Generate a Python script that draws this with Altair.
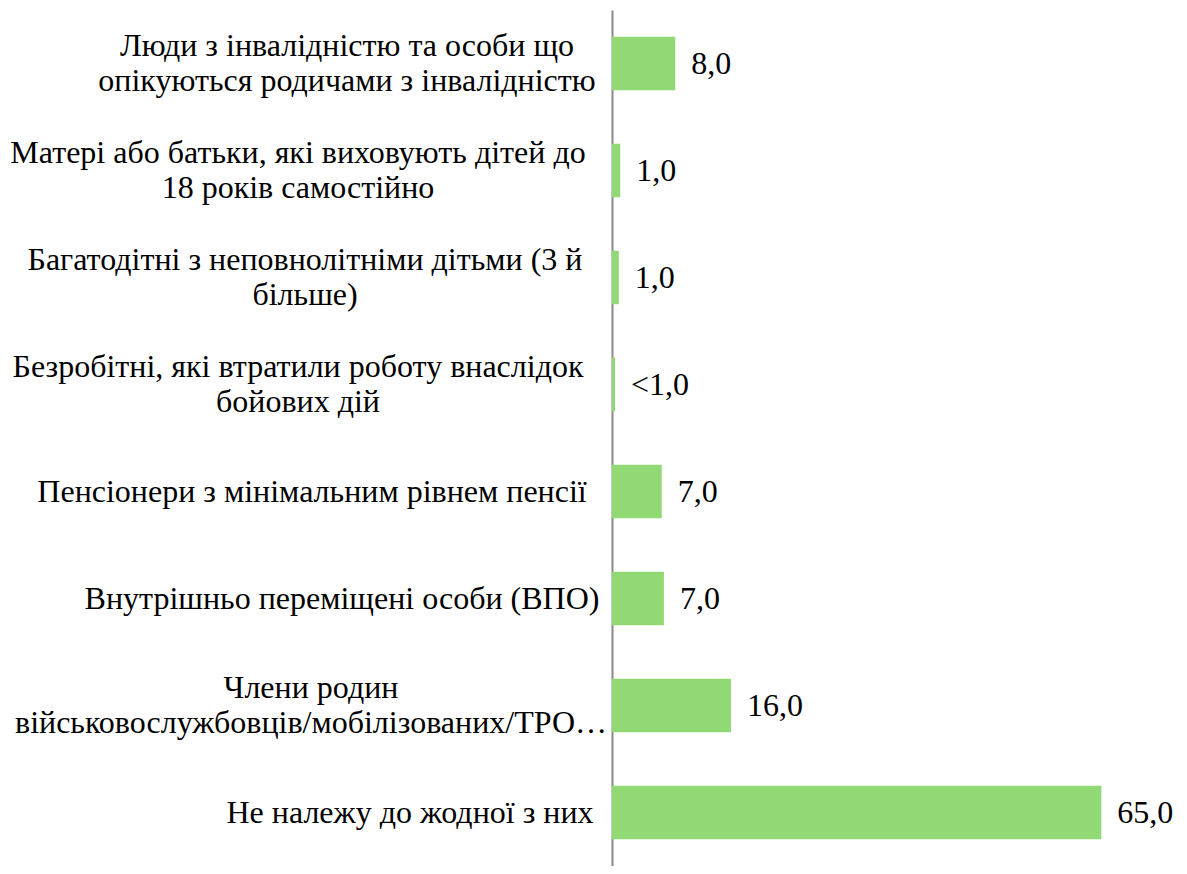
import altair as alt
import pandas as pd

categories = [
    "Люди з інвалідністю та особи що|опікуються родичами з інвалідністю",
    "Матері або батьки, які виховують дітей до|18 років самостійно",
    "Багатодітні з неповнолітніми дітьми (3 й|більше)",
    "Безробітні, які втратили роботу внаслідок|бойових дій",
    "Пенсіонери з мінімальним рівнем пенсії ",
    "Внутрішньо переміщені особи (ВПО)",
    "Члени родин|військовослужбовців/мобілізованих/ТРО…",
    "Не належу до жодної з них",
]
values = [8.4, 1.1, 0.9, 0.4, 6.6, 6.9, 15.8, 65.0]
labels = ["8,0", "1,0", "1,0", "<1,0", "7,0", "7,0", "16,0", "65,0"]

line1 = [c.split("|")[0] for c in categories]
line2 = [c.split("|")[1] if "|" in c else "" for c in categories]
nlines = [2 if "|" in c else 1 for c in categories]

df = pd.DataFrame({"cat": categories, "val": values, "lab": labels,
                   "l1": line1, "l2": line2, "n": nlines})

FONT = "Liberation Serif"
FS = 32
WIDTH = 527
XMAX = 70

y = alt.Y(
    "cat:N",
    sort=categories,
    scale=alt.Scale(paddingInner=0.5, paddingOuter=0.25),
    axis=alt.Axis(
        title=None,
        ticks=False,
        labels=False,
        domain=True,
        domainColor="#898989",
        domainWidth=2,
    ),
)
xs = alt.Scale(domain=[0, XMAX], nice=False)
x = alt.X("val:Q", scale=xs, axis=None)
ycat = alt.Y("cat:N", sort=categories)

base = alt.Chart(df)

bars = base.mark_bar(color="#90D975").encode(x=x, y=y)
values_text = base.mark_text(
    align="left", baseline="middle", dx=16, font=FONT, fontSize=FS, color="#000000"
).encode(x=x, y=ycat, text="lab:N")

# category labels: block right-aligned next to the axis, lines centred within the block
UP = "regexp('[А-ЯЄІЇҐA-Z]', 'g')"
def est(f):
    upper = f"(length({f}) - length(replace({f}, {UP}, '')))"
    return f"(14 * length({f}) + 8 * max(0, {upper} - 1))"

lab_base = base.transform_calculate(
    maxw=f"max({est('datum.l1')}, {est('datum.l2')})"
).transform_calculate(
    cx=f"(-27 - datum.maxw / 2) * {XMAX} / {WIDTH}"
)
cx = alt.X("cx:Q", scale=xs, axis=None)
txt = dict(align="center", baseline="middle", font=FONT, fontSize=FS, color="#000000")

single = lab_base.transform_filter("datum.n == 1").mark_text(**txt).encode(
    x=cx, y=ycat, text="l1:N")
top = lab_base.transform_filter("datum.n == 2").mark_text(dy=-17.5, **txt).encode(
    x=cx, y=ycat, text="l1:N")
bottom = lab_base.transform_filter("datum.n == 2").mark_text(dy=17.5, **txt).encode(
    x=cx, y=ycat, text="l2:N")

chart = (
    alt.layer(bars, values_text, single, top, bottom)
    .properties(
        width=WIDTH,
        height=856,
        background="#ffffff",
        autosize=alt.AutoSizeParams(type="none"),
        padding={"left": 604, "top": 2, "right": 40, "bottom": 0},
    )
    .configure(font=FONT)
    .configure_view(strokeWidth=0)
)

chart.save("out.html", embed_options={"renderer": "svg", "actions": False})
